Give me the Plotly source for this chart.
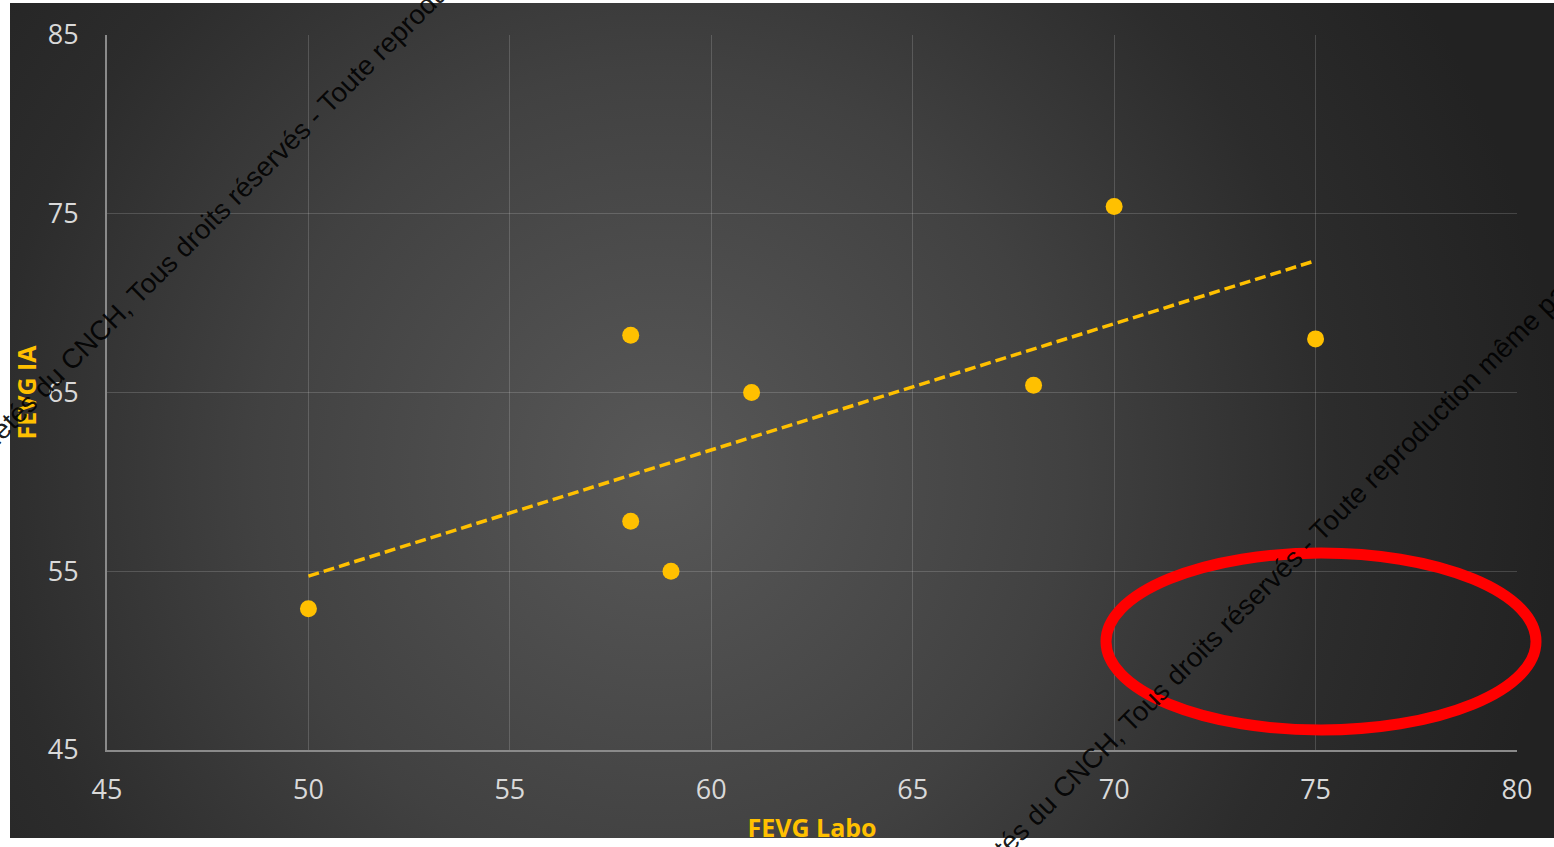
import base64
import numpy as np
import plotly.graph_objects as go

# ---- data ----
fevg_labo = [50, 58, 58, 59, 61, 68, 70, 75]
fevg_ia = [52.9, 68.2, 57.8, 55.0, 65.0, 65.4, 75.4, 68.0]

x_ticks = [45, 50, 55, 60, 65, 70, 75, 80]
y_ticks = [45, 55, 65, 75, 85]

x_title = "FEVG Labo"
y_title = "FEVG IA"
watermark = "Propriétés du CNCH, Tous droits réservés - Toute reproduction même partielle interdite"

YELLOW = "#FFC000"
W, H = 1554, 847
L, R, T, B = 107, 37, 35, 97

# linear trend (least squares) from the data
slope, intercept = np.polyfit(fevg_labo, fevg_ia, 1)
tx = [min(fevg_labo), max(fevg_labo)]
ty = [slope * v + intercept for v in tx]

fig = go.Figure()
fig.add_trace(go.Scatter(x=tx, y=ty, mode="lines",
                         line=dict(color=YELLOW, width=3.5, dash="11px,5px"),
                         hoverinfo="skip", showlegend=False))
fig.add_trace(go.Scatter(x=fevg_labo, y=fevg_ia, mode="markers",
                         marker=dict(color=YELLOW, size=17, line=dict(width=0)),
                         showlegend=False))

# radial gradient background (dark chart area), as an SVG image
bw, bh = 1544, 835
svg = f'''<svg xmlns="http://www.w3.org/2000/svg" width="{bw}" height="{bh}" viewBox="0 0 {bw} {bh}" preserveAspectRatio="none">
<defs><radialGradient id="g" gradientUnits="userSpaceOnUse" cx="650" cy="470" r="900">
<stop offset="0" stop-color="#585858"/><stop offset="0.45" stop-color="#414141"/>
<stop offset="0.75" stop-color="#2c2c2c"/><stop offset="1" stop-color="#222222"/>
</radialGradient></defs>
<rect x="0" y="0" width="{bw}" height="{bh}" fill="url(#g)"/></svg>'''
src = "data:image/svg+xml;base64," + base64.b64encode(svg.encode()).decode()

pw, ph = W - L - R, H - T - B
def px(xp):
    return (xp - L) / pw
def py(yp):
    return (H - B - yp) / ph

fig.add_layout_image(dict(source=src, xref="paper", yref="paper",
                          x=px(10), y=py(3), sizex=px(1554) - px(10), sizey=py(3) - py(838),
                          xanchor="left", yanchor="top", sizing="stretch", layer="below"))

# red hand-drawn ellipse highlight
fig.add_shape(type="circle", xref="paper", yref="paper",
              x0=px(1106), x1=px(1536), y0=py(730), y1=py(553),
              line=dict(color="#FF0000", width=11), layer="above")

# diagonal copyright watermark lines
for cx, cy in [(317, 113), (1309, 541)]:
    fig.add_annotation(text=watermark, xref="paper", yref="paper",
                       x=px(cx), y=py(cy), xanchor="center", yanchor="middle",
                       showarrow=False, textangle=-45,
                       font=dict(family="Liberation Sans, Arial", size=27.5, color="rgba(0,0,0,0.9)"))

axis_common = dict(showgrid=True, gridcolor="rgba(255,255,255,0.16)", gridwidth=1,
                   zeroline=False, showline=True, linecolor="#8a8a8a", linewidth=2,
                   tickfont=dict(family="Open Sans", size=27, color="#d9d9d9"),
                   ticks="", title_font=dict(family="Open Sans", size=25, color=YELLOW, weight="bold"))

fig.update_xaxes(range=[45, 80], tickvals=x_ticks, ticklabelstandoff=15,
                 title=dict(text=f"<b>{x_title}</b>", standoff=13), **axis_common)
fig.update_yaxes(range=[45, 85], tickvals=y_ticks, ticklabelstandoff=21,
                 title=dict(text=f"<b>{y_title}</b>", standoff=4), **axis_common)

fig.update_layout(width=W, height=H, autosize=False,
                  margin=dict(l=L, r=R, t=T, b=B, autoexpand=False),
                  paper_bgcolor="white", plot_bgcolor="rgba(0,0,0,0)",
                  showlegend=False)

fig.write_html("out.html", config={"displayModeBar": False},
               post_script="document.body.style.margin='0px';document.body.style.overflow='hidden';")
